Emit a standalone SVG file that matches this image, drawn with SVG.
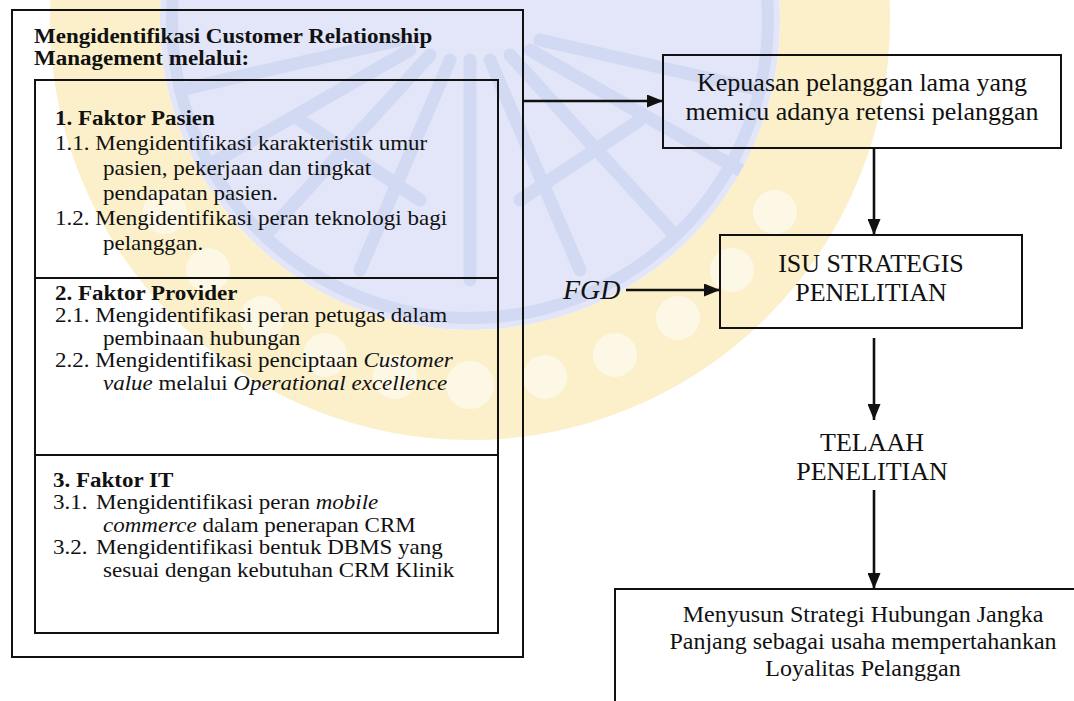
<svg xmlns="http://www.w3.org/2000/svg" width="1074" height="701" viewBox="0 0 1074 701">
  <defs>
    <marker id="arrow" markerWidth="16" markerHeight="13" refX="16" refY="6.5" orient="auto" markerUnits="userSpaceOnUse">
      <path d="M0,0 L16,6.5 L0,13 Z" fill="#111"/>
    </marker>
    <clipPath id="sealClip">
      <circle cx="470" cy="20" r="310"/>
    </clipPath>
  </defs>
  <style>
    .box { fill: none; stroke: #111; stroke-width: 2; }
    .edge { fill: none; stroke: #111; stroke-width: 2.6; marker-end: url(#arrow); }
    .t { font-family: "Liberation Serif", "Times New Roman", serif; fill: #111; }
    .l { font-size: 20px; }
    .b { font-weight: bold; }
    .r { font-size: 26px; text-anchor: middle; }
    .m { font-size: 24px; text-anchor: middle; }
    .i { font-style: italic; }
  </style>

  <rect width="1074" height="701" fill="#ffffff"/>

  <!-- faint seal behind the chart -->
  <g id="seal">
    <circle cx="470" cy="20" r="365" fill="none" stroke="#fbf0c9" stroke-width="110"/>
    <g fill="#fdf8e6">
      <circle cx="470" cy="385" r="24"/>
      <circle cx="395" cy="377" r="22"/>
      <circle cx="545" cy="377" r="22"/>
      <circle cx="325" cy="355" r="22"/>
      <circle cx="615" cy="355" r="22"/>
      <circle cx="262" cy="318" r="22"/>
      <circle cx="678" cy="318" r="22"/>
      <circle cx="208" cy="270" r="22"/>
      <circle cx="732" cy="270" r="22"/>
      <circle cx="165" cy="212" r="22"/>
      <circle cx="775" cy="212" r="22"/>
    </g>
    <circle cx="470" cy="20" r="310" fill="#e2e6f8"/>
    <g clip-path="url(#sealClip)" stroke="#d2d9f3" stroke-width="13" fill="none" stroke-linecap="round">
      <circle cx="470" cy="20" r="298" stroke-width="12"/>
      <path d="M470,60 L470,280"/>
      <path d="M450,60 L360,270"/>
      <path d="M490,60 L580,270"/>
      <path d="M430,55 L270,230"/>
      <path d="M510,55 L670,230"/>
      <path d="M410,50 L200,170"/>
      <path d="M530,50 L740,170"/>
      <path d="M400,40 L180,90"/>
      <path d="M540,40 L760,90"/>
      <path d="M300,120 L420,200"/>
      <path d="M640,120 L520,200"/>
    </g>
  </g>

  <!-- connectors -->
  <g id="connectors">
    <path class="edge" d="M523,101 H663"/>
    <path class="edge" d="M874,148 V235"/>
    <path class="edge" d="M626,290 H720"/>
    <path class="edge" d="M874,338 V420"/>
    <path class="edge" d="M874,490 V589"/>
  </g>

  <!-- left panel: CRM identification -->
  <g id="crm-panel">
    <rect class="box" x="12" y="10" width="511" height="647"/>
    <rect class="box" x="35" y="80" width="463" height="553"/>
    <line class="box" x1="35" y1="278" x2="498" y2="278"/>
    <line class="box" x1="35" y1="455" x2="498" y2="455"/>
    <!-- panel text is set at 20px and widened 1.15x; x values are in the widened frame -->
    <g transform="scale(1.15,1)">
      <text class="t l b" x="29.6" y="43">Mengidentifikasi Customer Relationship</text>
      <text class="t l b" x="29.6" y="65">Management melalui:</text>
    </g>
  </g>

  <g id="faktor-pasien" transform="scale(1.15,1)">
    <text class="t l b" x="47.8" y="125">1. Faktor Pasien</text>
    <text class="t l" x="47.8" y="150">1.1. Mengidentifikasi karakteristik umur</text>
    <text class="t l" x="89.6" y="175">pasien, pekerjaan dan tingkat</text>
    <text class="t l" x="89.6" y="200">pendapatan pasien.</text>
    <text class="t l" x="47.8" y="225">1.2. Mengidentifikasi  peran teknologi bagi</text>
    <text class="t l" x="89.6" y="250">pelanggan.</text>
  </g>

  <g id="faktor-provider" transform="scale(1.15,1)">
    <text class="t l b" x="47.8" y="300">2. Faktor Provider</text>
    <text class="t l" x="47.8" y="322.5">2.1. Mengidentifikasi peran petugas dalam</text>
    <text class="t l" x="89.6" y="345">pembinaan hubungan</text>
    <text class="t l" x="47.8" y="367.5">2.2. Mengidentifikasi penciptaan <tspan class="i">Customer</tspan></text>
    <text class="t l" x="89.6" y="390"><tspan class="i">value</tspan> melalui <tspan class="i">Operational excellence</tspan></text>
  </g>

  <g id="faktor-it" transform="scale(1.15,1)">
    <text class="t l b" x="46.1" y="487">3. Faktor IT</text>
    <text class="t l" x="46.1" y="509.5">3.1.<tspan x="83.5">Mengidentifikasi peran </tspan><tspan class="i">mobile</tspan></text>
    <text class="t l" x="89.6" y="532"><tspan class="i">commerce</tspan> dalam penerapan CRM</text>
    <text class="t l" x="46.1" y="554.5">3.2.<tspan x="83.5">Mengidentifikasi bentuk DBMS yang</tspan></text>
    <text class="t l" x="89.6" y="577">sesuai dengan kebutuhan CRM Klinik</text>
  </g>

  <!-- right column -->
  <g id="kepuasan">
    <rect class="box" x="663" y="55" width="398" height="93"/>
    <text class="t r" x="862" y="91">Kepuasan pelanggan lama yang</text>
    <text class="t r" x="862" y="120">memicu adanya retensi pelanggan</text>
  </g>

  <g id="fgd">
    <text class="t i" x="563" y="299" font-size="28">FGD</text>
  </g>

  <g id="isu-strategis">
    <rect class="box" x="720" y="235" width="302" height="93"/>
    <text class="t r" x="871" y="272">ISU STRATEGIS</text>
    <text class="t r" x="871" y="301">PENELITIAN</text>
  </g>

  <g id="telaah">
    <text class="t r" x="872" y="451">TELAAH</text>
    <text class="t r" x="872" y="480">PENELITIAN</text>
  </g>

  <g id="strategi">
    <rect class="box" x="615" y="589" width="520" height="140"/>
    <text class="t m" x="863" y="622">Menyusun Strategi Hubungan Jangka</text>
    <text class="t m" x="863" y="649">Panjang sebagai usaha mempertahankan</text>
    <text class="t m" x="863" y="676">Loyalitas Pelanggan</text>
  </g>
</svg>
